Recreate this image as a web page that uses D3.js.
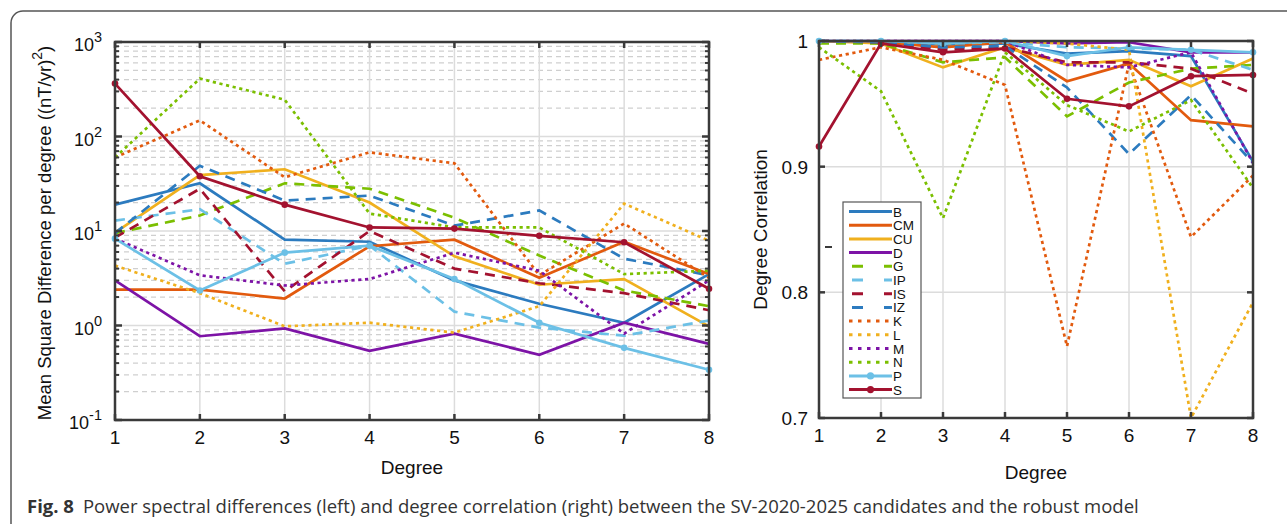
<!DOCTYPE html>
<html>
<head>
<meta charset="utf-8">
<script src="https://cdn.jsdelivr.net/npm/d3@7"></script>
<style>
  body { margin: 0; background: #fff; }
  svg { display: block; font-family: 'Liberation Sans', Arial, sans-serif; }
  .grid-major { stroke: #dcdcdc; stroke-width: 1.5px; }
  .grid-minor { stroke: #cfcfcf; stroke-width: 1.2px; stroke-dasharray: 5,4; }
  .frame { fill: none; stroke: #3a3a3a; stroke-width: 2.5px; }
  .tick { stroke: #3a3a3a; stroke-width: 2.5px; }
  .mtick { stroke: #3a3a3a; stroke-width: 2px; }
  .line { fill: none; stroke-width: 2.7px; }
</style>
</head>
<body>
<div id="chart"></div>
<script>
const degrees = [1, 2, 3, 4, 5, 6, 7, 8];
const names = ['B', 'CM', 'CU', 'D', 'G', 'IP', 'IS', 'IZ', 'K', 'L', 'M', 'N', 'P', 'S'];
const colors = ['#2c7bbf', '#e25a0e', '#f0b01e', '#7d13a6', '#7bbf00', '#6cc0e6', '#a3122f',
                '#2c7bbf', '#e25a0e', '#f0b01e', '#7d13a6', '#7bbf00', '#6cc0e6', '#a3122f'];
const styles = ['solid', 'solid', 'solid', 'solid', 'dash', 'dash', 'dash',
                'dash', 'dot', 'dot', 'dot', 'dot', 'marker', 'marker'];

// mean square difference per degree ((nT/yr)^2)
const msd = {
  B:  [19, 32, 8.1, 7.7, 3.0, 1.7, 1.07, 3.5],
  CM: [2.4, 2.4, 1.93, 6.9, 8.1, 3.2, 7.7, 3.5],
  CU: [9.6, 39, 45, 20, 5.4, 2.7, 3.1, 0.98],
  D:  [3.0, 0.77, 0.93, 0.54, 0.82, 0.49, 1.07, 0.64],
  G:  [9.5, 14.6, 32, 28, 13.8, 5.5, 2.35, 1.6],
  IP: [12.9, 17, 4.5, 7, 1.4, 0.95, 0.78, 1.13],
  IS: [8.5, 28, 2.3, 10, 4, 2.8, 2.2, 1.45],
  IZ: [9.5, 49, 21, 23.7, 11.4, 16.5, 5.1, 3.4],
  K:  [60, 148, 37, 68, 52, 3.4, 12, 3.2],
  L:  [4.3, 2.2, 0.98, 1.07, 0.84, 1.6, 19.5, 7.9],
  M:  [8.3, 3.4, 2.65, 3.1, 5.9, 3.8, 0.82, 3.0],
  N:  [60, 410, 245, 15.3, 10.9, 10.9, 3.5, 3.8],
  P:  [8.3, 2.35, 5.9, 7.0, 3.1, 1.07, 0.58, 0.34],
  S:  [363, 38, 19, 10.9, 10.6, 8.9, 7.6, 2.45]
};

// degree correlation
const corr = {
  B:  [1.0, 0.999, 0.997, 0.998, 0.99, 0.992, 0.988, 0.904],
  CM: [1.0, 0.999, 0.995, 0.999, 0.968, 0.982, 0.937, 0.932],
  CU: [1.0, 0.998, 0.979, 0.995, 0.981, 0.985, 0.964, 0.986],
  D:  [1.0, 1.0, 1.0, 1.0, 0.998, 0.999, 0.991, 0.991],
  G:  [0.998, 0.998, 0.983, 0.987, 0.94, 0.967, 0.978, 0.981],
  IP: [1.0, 1.0, 0.998, 0.999, 0.995, 0.994, 0.993, 0.977],
  IS: [1.0, 0.999, 0.993, 0.995, 0.983, 0.983, 0.978, 0.958],
  IZ: [1.0, 0.999, 0.995, 0.996, 0.963, 0.91, 0.957, 0.903],
  K:  [0.985, 0.995, 0.985, 0.965, 0.757, 0.982, 0.844, 0.893],
  L:  [1.0, 1.0, 0.998, 1.0, 0.998, 0.993, 0.70, 0.792],
  M:  [1.0, 1.0, 1.0, 1.0, 0.981, 0.979, 0.991, 0.903],
  N:  [0.995, 0.96, 0.859, 0.991, 0.949, 0.928, 0.953, 0.883],
  P:  [1.0, 1.0, 0.998, 1.0, 0.988, 0.995, 0.993, 0.991],
  S:  [0.916, 0.998, 0.991, 0.994, 0.954, 0.948, 0.972, 0.973]
};

const leftYTicks = [-1, 0, 1, 2, 3];
const rightYTicks = [0.7, 0.8, 0.9, 1];

const W = 1287, H = 524;
const svg = d3.select('#chart').append('svg').attr('width', W).attr('height', H);

// outer figure frame
svg.append('rect').attr('x', 11).attr('y', 11).attr('width', W + 20).attr('height', H + 20)
    .attr('rx', 12).attr('fill', 'none').attr('stroke', '#555').attr('stroke-width', 1.5);

const dashFor = s => s === 'dash' ? '10,7' : s === 'dot' ? '3.2,3.6' : null;

function drawLines(g, data, x, y) {
  names.forEach((n, i) => {
    const pts = data[n].map((v, j) => [degrees[j], v]);
    const line = d3.line().x(d => x(d[0])).y(d => y(d[1]));
    g.append('path').attr('class', 'line')
        .attr('d', line(pts))
        .attr('stroke', colors[i])
        .attr('stroke-width', styles[i] === 'dot' ? 3.3 : 2.7)
        .attr('stroke-dasharray', dashFor(styles[i]));
    if (styles[i] === 'marker') {
      g.selectAll(null).data(pts).enter().append('circle')
          .attr('cx', d => x(d[0])).attr('cy', d => y(d[1])).attr('r', 3.3)
          .attr('fill', colors[i]);
    }
  });
}

// ---------- left panel ----------
const L = { x0: 115, x1: 709, y0: 42, y1: 420 };
const xl = d3.scaleLinear().domain([1, 8]).range([L.x0, L.x1]);
const yl = d3.scaleLog().domain([0.1, 1000]).range([L.y1, L.y0]);
const gl = svg.append('g');

const minorL = [];
for (let e = -1; e < 3; e++) for (let k = 2; k <= 9; k++) minorL.push(k * Math.pow(10, e));

gl.selectAll('.gm').data(minorL).enter().append('line').attr('class', 'grid-minor')
    .attr('x1', L.x0).attr('x2', L.x1).attr('y1', d => yl(d)).attr('y2', d => yl(d));
gl.selectAll('.gM').data(leftYTicks).enter().append('line').attr('class', 'grid-major')
    .attr('x1', L.x0).attr('x2', L.x1).attr('y1', d => yl(Math.pow(10, d))).attr('y2', d => yl(Math.pow(10, d)));
gl.selectAll('.gx').data(degrees.slice(1, -1)).enter().append('line').attr('class', 'grid-major')
    .attr('x1', d => xl(d)).attr('x2', d => xl(d)).attr('y1', L.y0).attr('y2', L.y1);

drawLines(gl.append('g'), msd, xl, yl);

gl.append('rect').attr('class', 'frame').attr('x', L.x0).attr('y', L.y0)
    .attr('width', L.x1 - L.x0).attr('height', L.y1 - L.y0);
// ticks
degrees.forEach(d => {
  gl.append('line').attr('class', 'tick').attr('x1', xl(d)).attr('x2', xl(d)).attr('y1', L.y1).attr('y2', L.y1 - 6);
  gl.append('line').attr('class', 'tick').attr('x1', xl(d)).attr('x2', xl(d)).attr('y1', L.y0).attr('y2', L.y0 + 6);
  gl.append('text').attr('x', xl(d)).attr('y', L.y1 + 24).attr('text-anchor', 'middle')
      .attr('font-size', 19).attr('fill', '#111').text(d);
});
minorL.forEach(v => {
  [[L.x0, L.x0 + 4], [L.x1, L.x1 - 4]].forEach(([a, b]) =>
    gl.append('line').attr('class', 'mtick').attr('x1', a).attr('x2', b).attr('y1', yl(v)).attr('y2', yl(v)));
});
leftYTicks.forEach(e => {
  const yy = yl(Math.pow(10, e));
  [[L.x0, L.x0 + 7], [L.x1, L.x1 - 7]].forEach(([a, b]) =>
    gl.append('line').attr('class', 'tick').attr('x1', a).attr('x2', b).attr('y1', yy).attr('y2', yy));
  const t = gl.append('text').attr('x', L.x0 - 13).attr('y', yy + 9).attr('text-anchor', 'end')
      .attr('font-size', 18).attr('fill', '#111');
  t.append('tspan').text('10');
  t.append('tspan').attr('font-size', 14.5).attr('dy', -9).text(e);
});
gl.append('text').attr('x', xl(4.5)).attr('y', 474).attr('text-anchor', 'middle')
    .attr('font-size', 19).attr('fill', '#111').text('Degree');
const ylab = gl.append('text').attr('transform', `translate(51,${(L.y0 + L.y1) / 2 + 2}) rotate(-90)`)
    .attr('text-anchor', 'middle').attr('font-size', 18.5).attr('fill', '#111');
ylab.append('tspan').text('Mean Square Difference per degree ((nT/yr)');
ylab.append('tspan').attr('font-size', 14).attr('dy', -9).text('2');
ylab.append('tspan').attr('dy', 9).text(')');

// ---------- right panel ----------
const R = { x0: 819, x1: 1253, y0: 41, y1: 418 };
const xr = d3.scaleLinear().domain([1, 8]).range([R.x0, R.x1]);
const yr = d3.scaleLinear().domain([0.7, 1]).range([R.y1, R.y0]);
const gr = svg.append('g');

gr.selectAll('.gy').data(rightYTicks.slice(1, -1)).enter().append('line').attr('class', 'grid-major')
    .attr('x1', R.x0).attr('x2', R.x1).attr('y1', d => yr(d)).attr('y2', d => yr(d));
gr.selectAll('.gx').data(degrees.slice(1, -1)).enter().append('line').attr('class', 'grid-major')
    .attr('x1', d => xr(d)).attr('x2', d => xr(d)).attr('y1', R.y0).attr('y2', R.y1);

drawLines(gr.append('g'), corr, xr, yr);

gr.append('rect').attr('class', 'frame').attr('x', R.x0).attr('y', R.y0)
    .attr('width', R.x1 - R.x0).attr('height', R.y1 - R.y0);
degrees.forEach(d => {
  gr.append('line').attr('class', 'tick').attr('x1', xr(d)).attr('x2', xr(d)).attr('y1', R.y1).attr('y2', R.y1 - 6);
  gr.append('line').attr('class', 'tick').attr('x1', xr(d)).attr('x2', xr(d)).attr('y1', R.y0).attr('y2', R.y0 + 6);
  gr.append('text').attr('x', xr(d)).attr('y', R.y1 + 24).attr('text-anchor', 'middle')
      .attr('font-size', 19).attr('fill', '#111').text(d);
});
rightYTicks.forEach(v => {
  [[R.x0, R.x0 + 6], [R.x1, R.x1 - 6]].forEach(([a, b]) =>
    gr.append('line').attr('class', 'tick').attr('x1', a).attr('x2', b).attr('y1', yr(v)).attr('y2', yr(v)));
  gr.append('text').attr('x', R.x0 - 11).attr('y', yr(v) + 7).attr('text-anchor', 'end')
      .attr('font-size', 19).attr('fill', '#111').text(v);
});
gr.append('text').attr('x', xr(4.5)).attr('y', 479).attr('text-anchor', 'middle')
    .attr('font-size', 19).attr('fill', '#111').text('Degree');
gr.append('text').attr('transform', `translate(767,${(R.y0 + R.y1) / 2}) rotate(-90)`)
    .attr('text-anchor', 'middle').attr('font-size', 19).attr('fill', '#111').text('Degree Correlation');
// stray tick mark seen left of legend
gr.append('line').attr('class', 'mtick').attr('x1', 825).attr('x2', 832).attr('y1', 247).attr('y2', 247);

// legend
const lg = gr.append('g').attr('transform', 'translate(843,202)');
lg.append('rect').attr('width', 78).attr('height', 196).attr('fill', '#fff')
    .attr('stroke', '#555').attr('stroke-width', 1.2);
names.forEach((n, i) => {
  const yy = 9.5 + i * 13.7;
  lg.append('line').attr('x1', 6).attr('x2', 49).attr('y1', yy).attr('y2', yy)
      .attr('stroke', colors[i]).attr('stroke-width', 3)
      .attr('stroke-dasharray', styles[i] === 'dash' ? '11,21' : styles[i] === 'dot' ? '3.5,5.5' : null)
      .attr('stroke-dashoffset', styles[i] === 'dash' ? -3 : 0);
  if (styles[i] === 'marker') {
    lg.append('circle').attr('cx', 27.5).attr('cy', yy).attr('r', 3.6).attr('fill', colors[i]);
  }
  lg.append('text').attr('x', 50).attr('y', yy + 5).attr('font-size', 13.5).attr('fill', '#111').text(n);
});

// caption
const cap = svg.append('text').attr('x', 27).attr('y', 513)
    .attr('font-family', "'Open Sans', sans-serif").attr('font-size', 18.5).attr('fill', '#333');
cap.append('tspan').attr('font-weight', 'bold').text('Fig. 8');
cap.append('tspan').attr('dx', 9).text('Power spectral differences (left) and degree correlation (right) between the SV-2020-2025 candidates and the robust model');
</script>
</body>
</html>
